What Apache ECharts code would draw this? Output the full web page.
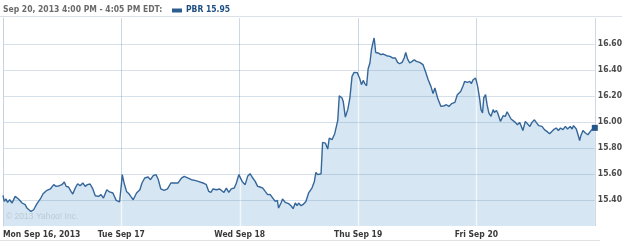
<!DOCTYPE html>
<html>
<head>
<meta charset="utf-8">
<script src="https://cdn.jsdelivr.net/npm/echarts@6/dist/echarts.min.js"></script>
<style>
html,body{margin:0;padding:0;background:#fff;}
#chart{width:625px;height:241px;}
</style>
</head>
<body>
<div id="chart"></div>
<script>
// Day labels (x axis) — each trading day = 390 minutes
const dayLabels = ['Mon Sep 16, 2013', 'Tue Sep 17', 'Wed Sep 18', 'Thu Sep 19', 'Fri Sep 20'];
const headerText = 'Sep 20, 2013 4:00 PM - 4:05 PM EDT:';
const legendText = 'PBR 15.95';

// minutes since Monday's open (trading minutes only)
const monTimes = [0,4,10,15,22,30,40,51,63,73,79,92,101,112,123,132,143,156,167,175,186,194,202,208,216,224,230,238,246,254,263,271,278,287,296,304,315,323,331,342,351,362,373,384];
const monPrices = [15.435,15.389,15.408,15.382,15.402,15.377,15.428,15.408,15.377,15.364,15.338,15.312,15.325,15.372,15.408,15.448,15.472,15.485,15.518,15.505,15.510,15.518,15.538,15.505,15.500,15.466,15.446,15.492,15.525,15.510,15.531,15.505,15.518,15.523,15.485,15.433,15.428,15.441,15.415,15.479,15.462,15.454,15.397,15.385];

const tueTimes = [390,393,399,407,415,421,429,440,451,458,467,478,486,495,504,511,520,531,542,553,564,569,577,588,597,610,621,632,643,659,670,678,685,692,703,714,728,736,744,752,762,769,777];
const tuePrices = [15.518,15.595,15.531,15.466,15.448,15.428,15.402,15.454,15.479,15.531,15.569,15.577,15.556,15.587,15.595,15.562,15.485,15.474,15.485,15.531,15.531,15.543,15.531,15.569,15.582,15.569,15.556,15.551,15.543,15.531,15.518,15.466,15.458,15.485,15.479,15.485,15.458,15.492,15.458,15.485,15.492,15.531,15.595];

const wedTimes = [780,788,792,798,806,814,823,831,839,847,856,864,872,880,889,897,904,908,916,921,930,941,949,956,963,969,974,982,989,998,1007,1018,1026,1031,1037,1048,1053,1062,1070,1075,1084,1093,1103,1108,1117,1121,1128,1136,1143,1150,1157,1163,1167];
const wedPrices = [15.582,15.543,15.556,15.518,15.582,15.602,15.569,15.543,15.505,15.500,15.492,15.466,15.441,15.443,15.415,15.389,15.397,15.338,15.377,15.408,15.382,15.372,15.356,15.333,15.377,15.356,15.377,15.356,15.366,15.389,15.454,15.492,15.543,15.612,15.595,15.602,15.843,15.838,15.792,15.877,15.864,15.910,16.012,16.202,16.185,16.158,16.038,16.095,16.185,16.351,16.382,16.389,16.380];

const thuTimes = [1170,1176,1181,1187,1192,1198,1203,1209,1214,1220,1223,1228,1236,1245,1253,1264,1275,1280,1285,1293,1300,1307,1315,1322,1327,1333,1340,1348,1355,1362,1373,1384,1392,1401,1410,1417,1423,1432,1443,1454,1461,1469,1478,1489,1494,1497,1508,1516,1521,1530,1538,1543,1549,1557];
const thuPrices = [16.370,16.330,16.287,16.320,16.295,16.279,16.408,16.454,16.556,16.620,16.646,16.535,16.531,16.518,16.523,16.510,16.505,16.518,16.492,16.492,16.459,16.448,16.459,16.492,16.535,16.485,16.454,16.466,16.479,16.466,16.459,16.441,16.389,16.325,16.274,16.218,16.262,16.185,16.120,16.125,16.133,16.120,16.141,16.151,16.146,16.210,16.235,16.279,16.312,16.305,16.312,16.295,16.325,16.338];

const friTimes = [1560,1564,1571,1575,1580,1584,1590,1595,1601,1604,1608,1615,1619,1626,1630,1639,1648,1655,1661,1667,1674,1680,1688,1695,1702,1707,1713,1721,1727,1736,1743,1751,1757,1765,1776,1784,1792,1801,1806,1814,1823,1830,1837,1845,1853,1860,1869,1875,1880,1889,1893,1900,1904,1911,1919,1927,1933,1940,1950];
const friPrices = [16.312,16.274,16.172,16.095,16.069,16.185,16.210,16.133,16.069,16.082,16.043,16.095,16.074,16.089,16.069,16.005,16.048,16.043,16.079,16.069,16.023,16.038,15.997,15.979,15.997,15.972,15.935,16.005,15.997,15.966,15.997,16.017,15.997,15.972,15.966,15.941,15.928,15.910,15.915,15.941,15.954,15.935,15.954,15.941,15.966,15.946,15.966,15.946,15.972,15.946,15.915,15.858,15.895,15.935,15.915,15.902,15.915,15.941,15.955];

const times = [].concat(monTimes, tueTimes, wedTimes, thuTimes, friTimes);
const prices = [].concat(monPrices, tuePrices, wedPrices, thuPrices, friPrices);

const DAY = 390;
const Y_MIN = 15.2, Y_MAX = 16.8, Y_STEP = 0.2;

const seriesData = times.map((t, i) => [t, prices[i]]);
const lastIdx = seriesData.length - 1;
const strokeData = seriesData.map((p, i) => i === lastIdx
  ? { value: p, symbol: 'rect', symbolSize: 6, itemStyle: { color: '#23568a' } }
  : { value: p, symbol: 'none' });

// day boundaries: price at each session open, from the data arrays
const openStarts = [tueTimes[0], wedTimes[0], thuTimes[0], friTimes[0]];
const openPrices = [tuePrices[0], wedPrices[0], thuPrices[0], friPrices[0]];
const boundaryData = openStarts.map((t, i) => [t, openPrices[i]]);

const FONT = "'DejaVu Sans Condensed', 'Liberation Sans', sans-serif";

const chart = echarts.init(document.getElementById('chart'), null, { renderer: 'canvas' });
chart.setOption({
  animation: false,
  backgroundColor: '#ffffff',
  grid: { left: 3, right: 30, top: 18, bottom: 15 },
  xAxis: {
    type: 'value',
    min: 0,
    max: DAY * 5,
    interval: DAY,
    z: 0,
    axisLine: { show: false },
    axisTick: { show: false },
    axisLabel: {
      show: true,
      margin: 4,
      color: '#3a3a3a',
      fontFamily: FONT,
      fontWeight: 'bold',
      fontSize: 8.5,
      alignMinLabel: 'left',
      showMaxLabel: false,
      formatter: v => dayLabels[Math.round(v / DAY)] || ''
    },
    splitLine: { show: true, lineStyle: { color: '#cdd8e2', width: 1 } }
  },
  yAxis: {
    type: 'value',
    position: 'right',
    min: Y_MIN,
    max: Y_MAX,
    interval: Y_STEP,
    z: 2.5,
    axisLine: { show: true, lineStyle: { color: '#c8d3de' } },
    axisTick: { show: false },
    axisLabel: {
      margin: 3,
      color: '#4a4a4a',
      fontFamily: FONT,
      fontWeight: 'bold',
      fontSize: 8.5,
      showMinLabel: false,
      showMaxLabel: false,
      formatter: v => v.toFixed(2)
    },
    splitLine: { show: true, showMinLine: false, showMaxLine: false, lineStyle: { color: 'rgba(100,140,180,0.27)', width: 1 } }
  },
  series: [
    {
      type: 'line',
      z: 1,
      data: seriesData,
      symbol: 'none',
      lineStyle: { width: 0, opacity: 0 },
      areaStyle: { color: '#d6e6f2', opacity: 1, origin: 'start' },
      silent: true
    },
    {
      type: 'custom',
      z: 2,
      data: boundaryData,
      renderItem: (params, api) => {
        const t = api.value(0), v = api.value(1);
        const p0 = api.coord([t, Y_MIN]);
        const p1 = api.coord([t, v]);
        const x = Math.round(p0[0]) + 0.5;
        return { type: 'line', shape: { x1: x, y1: p0[1], x2: x, y2: p1[1] + 2 }, style: { stroke: '#f3f7fb', lineWidth: 1.5 } };
      },
      silent: true
    },
    {
      type: 'line',
      z: 3,
      data: strokeData,
      symbol: 'none',
      showSymbol: true,
      lineStyle: { color: '#35669a', width: 1.4 },
      silent: true
    }
  ],
  graphic: [
    { type: 'line', shape: { x1: 0, y1: 16.5, x2: 622, y2: 16.5 }, style: { stroke: '#dbe1e7', lineWidth: 1 } },
    { type: 'line', shape: { x1: 0, y1: 240.5, x2: 600, y2: 240.5 }, style: { stroke: '#e2e2e2', lineWidth: 1 } },
    { type: 'text', left: 3, top: 5, style: { text: headerText, fill: '#6a6a6a', font: "bold 8.5px " + FONT } },
    { type: 'rect', shape: { x: 172, y: 8.5, width: 10, height: 4 }, style: { fill: '#2c5d8f' } },
    { type: 'text', left: 186, top: 5, style: { text: legendText, fill: '#1f4f82', font: "bold 8.5px " + FONT } },
    { type: 'text', left: 6, top: 212, z: 10, style: { text: '\u00A9 2013 Yahoo! Inc.', fill: '#bccad7', font: "8.5px 'Liberation Sans', Arial, sans-serif" } }
  ]
});
</script>
</body>
</html>
